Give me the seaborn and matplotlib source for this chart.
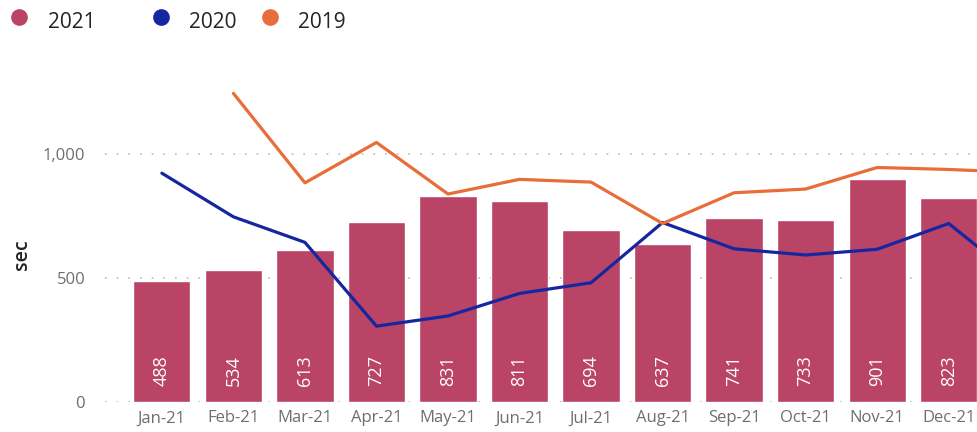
import numpy as np
import pandas as pd
import matplotlib
matplotlib.use("Agg")
import matplotlib.pyplot as plt
from matplotlib.lines import Line2D
import seaborn as sns

# months shown on the axis (the 13th one is cut off at the right edge)
months = ["Jan-21", "Feb-21", "Mar-21", "Apr-21", "May-21", "Jun-21",
          "Jul-21", "Aug-21", "Sep-21", "Oct-21", "Nov-21", "Dec-21", "Jan-22"]
sec_2021 = [488, 534, 613, 727, 831, 811, 694, 637, 741, 733, 901, 823, np.nan]
sec_2020 = [923, 747, 644, 306, 347, 438, 481, 724, 618, 593, 616, 720, 489]
sec_2019 = [np.nan, 1245, 884, 1047, 839, 898, 887, 720, 844, 859, 946, 938, 926]
yticks = [0, 500, 1000]

c21 = "#B94466"
c20 = "#1626A0"
c19 = "#E86D38"
grey = "#6E6E6E"

sns.set_theme(style="white")
plt.rcParams["font.family"] = ["Open Sans", "DejaVu Sans"]

df = pd.DataFrame({"month": months, "y2021": sec_2021,
                   "y2020": sec_2020, "y2019": sec_2019})
df["pos"] = np.arange(len(months))

fig = plt.figure(figsize=(9.78, 4.32), dpi=100)
ax = fig.add_axes([0.107, 0.0694, 0.893, 0.792])

sns.barplot(data=df.dropna(subset=["y2021"]), x="month", y="y2021",
            order=months, color=c21, saturation=1, width=0.8, ax=ax)
sns.lineplot(data=df, x="pos", y="y2020", color=c20, linewidth=2.3,
             estimator=None, sort=False, ax=ax)
sns.lineplot(data=df, x="pos", y="y2019", color=c19, linewidth=2.3,
             estimator=None, sort=False, ax=ax)

# value labels inside the bars
for i, v in enumerate(sec_2021):
    if not np.isnan(v):
        ax.text(i, 66, f"{int(v)}", rotation=90, ha="center", va="bottom",
                color="white", fontsize=13)

ax.set_xlim(-0.8, 11.41)
ax.set_ylim(0, 1380)
ax.set_yticks(yticks)
ax.set_yticklabels([f"{t:,}" for t in yticks])
ax.tick_params(axis="y", colors=grey, labelsize=12, length=0, pad=14)
ax.tick_params(axis="x", colors=grey, labelsize=12, length=0, pad=6)
ax.set_xlabel("")
ax.set_ylabel("sec", fontsize=14, color="#252423", fontweight="semibold")
ax.yaxis.set_label_coords(-0.083, 0.43)
ax.yaxis.grid(True, linestyle=(0, (1, 6)), color="#BBBBBB", linewidth=1.2)
ax.set_axisbelow(True)
sns.despine(ax=ax, left=True, bottom=True)

# legend across the top
for label, col, mx, tx in [("2021", c21, 0.019, 0.049),
                           ("2020", c20, 0.165, 0.193),
                           ("2019", c19, 0.276, 0.305)]:
    fig.add_artist(Line2D([mx], [0.96], marker="o", markersize=11,
                          color=col, linestyle="none",
                          transform=fig.transFigure))
    fig.text(tx, 0.949, label, fontsize=15, color="#252423", va="center")

fig.savefig("out.png", dpi=100)
